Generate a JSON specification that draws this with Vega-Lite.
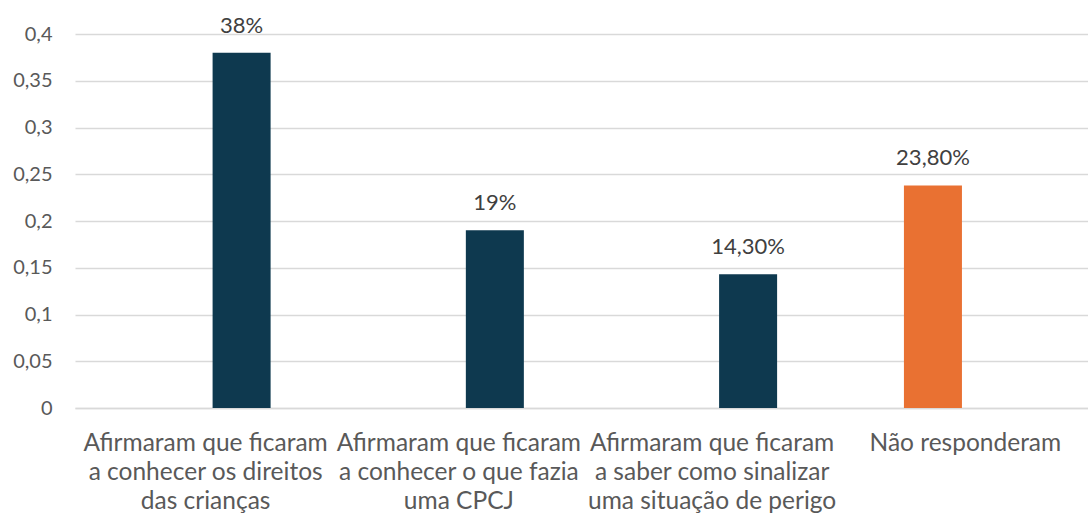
{
  "$schema": "https://vega.github.io/schema/vega-lite/v6.json",
  "autosize": {"type": "none"},
  "padding": {"left": 75, "top": 34, "right": 0, "bottom": 114},
  "width": 1013,
  "height": 374,
  "background": "white",
  "data": {"values": [
    {"categoria": "Afirmaram que ficaram\na conhecer os direitos\ndas crianças", "serie": "Série 1", "valor": 0.38, "rotulo": "38%"},
    {"categoria": "Afirmaram que ficaram\na conhecer o que fazia\numa CPCJ", "serie": "Série 1", "valor": 0.19, "rotulo": "19%"},
    {"categoria": "Afirmaram que ficaram\na saber como sinalizar\numa situação de perigo", "serie": "Série 1", "valor": 0.143, "rotulo": "14,30%"},
    {"categoria": "Não responderam", "serie": "Série 2", "valor": 0.238, "rotulo": "23,80%"}
  ]},
  "encoding": {
    "x": {
      "field": "categoria", "type": "nominal", "sort": null,
      "scale": {"paddingInner": 0, "paddingOuter": 0},
      "axis": {
        "title": null, "labelAngle": 0, "labelExpr": "split(datum.label, '\\n')",
        "labelFont": "Lato", "labelFontSize": 24.5, "labelLineHeight": 29, "labelColor": "#595959",
        "labelPadding": 23, "labelOffset": 4, "labelLimit": 0, "labelOverlap": false, "labelBound": false,
        "ticks": false, "tickSize": 0, "grid": false,
        "domainColor": "#d9d9d9", "domainWidth": 1.5
      }
    },
    "xOffset": {
      "field": "serie", "type": "nominal",
      "scale": {"domain": ["Série 2", "Série 1"], "paddingInner": 0.152, "paddingOuter": 0.927, "align": 0.5455}
    },
    "y": {
      "field": "valor", "type": "quantitative",
      "scale": {"domain": [0, 0.4], "nice": false},
      "axis": {
        "title": null, "values": [0, 0.05, 0.1, 0.15, 0.2, 0.25, 0.3, 0.35, 0.4],
        "format": "~g", "labelExpr": "replace(datum.label, '.', ',')",
        "labelFont": "Lato", "labelFontSize": 20, "labelColor": "#595959", "labelPadding": 23,
        "ticks": false, "tickSize": 0, "domain": false,
        "grid": true, "gridColor": "#d9d9d9", "gridWidth": 1.5
      }
    }
  },
  "layer": [
    {
      "mark": {"type": "bar"},
      "encoding": {
        "color": {"field": "serie", "type": "nominal", "scale": {"domain": ["Série 1", "Série 2"], "range": ["#0E394F", "#E97132"]}, "legend": null}
      }
    },
    {
      "mark": {"type": "text", "baseline": "alphabetic", "dy": -20, "font": "Lato", "fontSize": 22, "color": "#404040"},
      "encoding": {"text": {"field": "rotulo", "type": "nominal"}}
    }
  ],
  "config": {"view": {"stroke": null}}
}
